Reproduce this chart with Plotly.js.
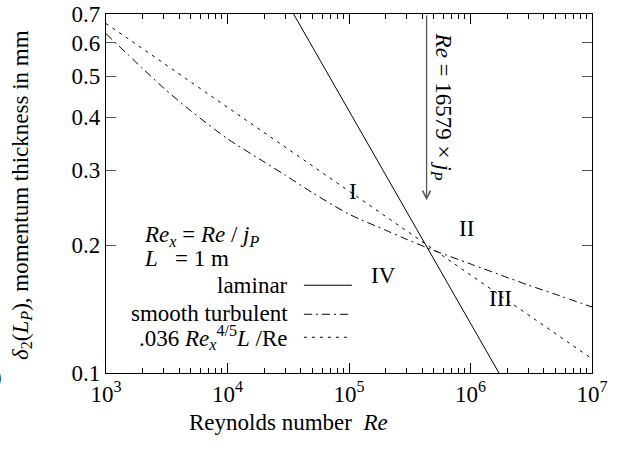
<!DOCTYPE html>
<html>
<head>
<meta charset="utf-8">
<script src="https://cdn.plot.ly/plotly-3.0.1.min.js"></script>
<style>html,body{margin:0;padding:0;background:#fff;}#chart{width:622px;height:450px;}</style>
</head>
<body>
<div id="chart"></div>
<script>
// ---- data ----
const laminarRe = [3e4, 1e5, 3e5, 1e6, 2e6];
const laminarDelta = [0.756, 0.414, 0.239, 0.131, 0.0926];

const turbRe = [1e3, 2e3, 3e3, 5e3, 1e4, 2e4, 3e4, 5e4, 1e5, 2e5, 3e5, 5e5, 1e6, 2e6, 3e6, 5e6, 1e7];
const turbDelta = [0.629, 0.521, 0.468, 0.414, 0.356, 0.314, 0.292, 0.2658, 0.2366, 0.2169, 0.2062, 0.1943, 0.1806, 0.1679, 0.161, 0.1532, 0.143];

const powRe = [1e3, 1e4, 1e5, 1e6, 1e7];
const powDelta = [0.665, 0.422, 0.268, 0.170, 0.108];

const arrowRe = 4.35e5;
const arrowTop = 0.7;
const arrowTip = 0.255;

const xTickVals = [1e3, 1e4, 1e5, 1e6, 1e7];
const xTickText = ['10<sup>3</sup>', '10<sup>4</sup>', '10<sup>5</sup>', '10<sup>6</sup>', '10<sup>7</sup>'];
const xMinorVals = [];
[1e3, 1e4, 1e5, 1e6].forEach(d => { for (let k = 2; k <= 9; k++) xMinorVals.push(k * d); });
const yTickVals = [0.1, 0.2, 0.3, 0.4, 0.5, 0.6, 0.7];
const yTickText = ['0.1', '0.2', '0.3', '0.4', '0.5', '0.6', '0.7'];

const seriesNames = ['laminar', 'smooth turbulent', '.036 <i>Re<sub>x</sub></i><sup>4/5</sup><i>L</i> /Re'];
const regionLabels = ['I', 'II', 'III', 'IV'];

// ---- drawing ----
const FONT = 'Liberation Serif, Times New Roman, serif';
const FS = 23;
const L = 106, R = 592.3, T = 14, B = 372.7;
const W = 622, H = 450;
const px = x => (x - L) / (R - L);
const py = y => (B - y) / (B - T);

const dashTurb = '8px,4px,2px,4px';
const dashPow = '3px,5px';

const traces = [
  {x: laminarRe, y: laminarDelta, mode: 'lines', line: {color: '#000', width: 1}, showlegend: false},
  {x: turbRe, y: turbDelta, mode: 'lines', line: {color: '#000', width: 1, dash: dashTurb, shape: 'spline', smoothing: 0.8}, showlegend: false},
  {x: powRe, y: powDelta, mode: 'lines', line: {color: '#000', width: 1, dash: dashPow}, showlegend: false}
];

const txt = (text, x, y, extra) => Object.assign({
  text: text, xref: 'paper', yref: 'paper', x: x, y: y, showarrow: false,
  xanchor: 'center', yanchor: 'middle', font: {family: FONT, size: FS, color: '#000'}
}, extra || {});

const annotations = [
  // arrow
  {x: Math.log10(arrowRe), y: Math.log10(arrowTip), ax: Math.log10(arrowRe), ay: Math.log10(arrowTop),
   xref: 'x', yref: 'y', axref: 'x', ayref: 'y', text: '', showarrow: true,
   arrowhead: 5, arrowsize: 1.2, arrowwidth: 1.3, arrowcolor: '#555', standoff: 0},
  txt('<i>Re</i> = 16579 × <i>j<sub>P</sub></i>', px(441.7), py(107), {textangle: 90}),
  // region labels
  txt(regionLabels[0], px(353.3), py(191.7)),
  txt(regionLabels[1], px(466.7), py(228.3)),
  txt(regionLabels[2], px(500.7), py(298.3)),
  txt(regionLabels[3], px(384), py(275)),
  // key header
  txt('<i>Re<sub>x</sub></i> = <i>Re</i> / <i>j<sub>P</sub></i>', px(142), py(236), {xanchor: 'left'}),
  txt('<i>L</i>\u00a0\u00a0\u00a0= 1 m', px(142), py(258), {xanchor: 'left'}),
  // key entries
  txt(seriesNames[0], px(290), py(285), {xanchor: 'right'}),
  txt(seriesNames[1], px(290), py(313), {xanchor: 'right'}),
  txt(seriesNames[2], px(290), py(337), {xanchor: 'right'}),
  // axis titles
  txt('Reynolds number\u00a0\u00a0<i>Re</i>', px(289), py(422)),
  txt('<i>δ</i><sub>2</sub>(<i>L<sub>P</sub></i>), momentum thickness in mm', px(21.7), py(195), {textangle: -90}),
  // clipped fragment at left edge
  txt('0', px(4), py(378), {xanchor: 'right'})
];

const keyLine = (y, dash) => ({type: 'line', xref: 'paper', yref: 'paper', x0: px(304), x1: px(352), y0: py(y), y1: py(y),
  line: {color: '#000', width: 1, dash: dash}});
const shapes = [keyLine(285, 'solid'), keyLine(314, dashTurb), keyLine(337, dashPow)];

const layout = {
  width: W, height: H,
  margin: {l: L, r: W - R, t: T, b: H - B, pad: 0},
  paper_bgcolor: '#fff', plot_bgcolor: '#fff',
  showlegend: false,
  font: {family: FONT, size: FS, color: '#000'},
  xaxis: {
    type: 'log', range: [3, 7], tickmode: 'array', tickvals: xTickVals, ticktext: xTickText,
    ticks: 'inside', ticklen: 10, tickwidth: 1, tickcolor: '#000',
    showline: true, linecolor: '#000', linewidth: 1.2, mirror: 'ticks',
    showgrid: false, zeroline: false,
    tickfont: {family: FONT, size: FS, color: '#000'},
    minor: {tickmode: 'array', tickvals: xMinorVals, ticks: 'inside', ticklen: 5, tickwidth: 1, tickcolor: '#000', showgrid: false}
  },
  yaxis: {
    type: 'log', range: [-1, Math.log10(0.7)], tickmode: 'array', tickvals: yTickVals, ticktext: yTickText,
    ticks: 'inside', ticklen: 10, tickwidth: 1, tickcolor: '#555',
    showline: true, linecolor: '#000', linewidth: 1.2, mirror: 'ticks',
    showgrid: false, zeroline: false,
    tickfont: {family: FONT, size: FS, color: '#000'}
  },
  annotations: annotations,
  shapes: shapes
};

Plotly.newPlot('chart', traces, layout, {staticPlot: true, displayModeBar: false});
</script>
</body>
</html>
